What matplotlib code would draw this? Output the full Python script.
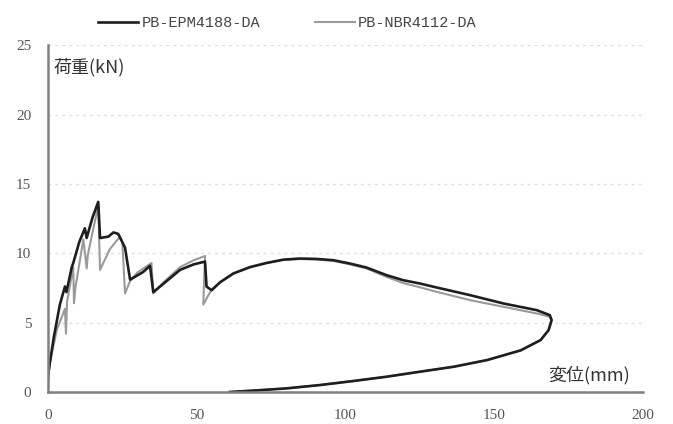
import matplotlib.pyplot as plt

# load-displacement curves
epm_x = [0, 0.1, 2, 4, 5.7, 6.2, 8.0, 8.5, 10.5, 12.4, 13.0, 15, 16.9, 17.5, 20.3, 22,
         23.6, 25.9, 27.6, 30, 32, 34.3, 35.4, 38.8, 44.4, 49, 52.8, 53.3, 55, 57.8, 62.3,
         67.9, 73.5, 79.1, 84.7, 90.3, 95.9, 101.5, 107.1, 113.8, 119.4, 125, 130.7,
         141.9, 153.1, 164.3, 168.7, 169.3, 168.3, 165.6, 158.9, 147.6, 136.4, 125,
         113.8, 102.6, 91.4, 80.2, 69, 61.2]
epm_y = [1.0, 1.35, 4.0, 6.3, 7.6, 7.2, 9.0, 9.3, 10.8, 11.8, 11.1, 12.6, 13.7, 11.1, 11.2, 11.5,
         11.4, 10.4, 8.1, 8.4, 8.65, 9.1, 7.2, 7.8, 8.8, 9.2, 9.4, 7.6, 7.34, 7.9, 8.54,
         9.0, 9.3, 9.54, 9.62, 9.59, 9.5, 9.26, 8.97, 8.42, 8.06, 7.82, 7.53,
         6.98, 6.38, 5.9, 5.54, 5.18, 4.46, 3.74, 3.0, 2.3, 1.82, 1.46,
         1.1, 0.79, 0.5, 0.26, 0.1, 0.0]

nbr_x = [0, 0.7, 3, 5.7, 6.05, 6.4, 8.5, 8.74, 9.2, 11.9, 13.0, 13.4, 16.9, 17.5, 20.8, 24.2,
         25.0, 25.9, 27.6, 30, 34.8, 35.4, 38.8, 44.4, 49, 52.8, 52.2, 54.5, 57.8, 62.3,
         67.9, 73.5, 79.1, 84.7, 90.3, 95.9, 101.5, 107.1, 113.8, 119.4, 125, 130.7,
         141.9, 153.1, 164.3, 168.7, 169.3, 168.3, 165.6, 158.9, 147.6, 136.4, 125,
         113.8, 102.6, 91.4, 80.2, 69, 61.2]
nbr_y = [0.8, 2.2, 4.5, 6.0, 4.2, 6.5, 9.0, 6.4, 7.5, 11.0, 8.9, 9.9, 13.45, 8.8, 10.3, 11.2,
         10.8, 7.1, 8.0, 8.6, 9.3, 7.1, 7.9, 9.0, 9.5, 9.8, 6.3, 7.2, 7.9, 8.54,
         9.0, 9.3, 9.52, 9.58, 9.55, 9.45, 9.2, 8.9, 8.3, 7.85, 7.55, 7.22,
         6.62, 6.14, 5.66, 5.42, 5.18, 4.46, 3.74, 3.0, 2.3, 1.82, 1.46,
         1.1, 0.79, 0.5, 0.26, 0.1, 0.0]

fig = plt.figure(figsize=(6.73, 4.24), dpi=100)
ax = fig.add_axes([0.0713, 0.0755, 0.884, 0.818])

ax.plot(nbr_x, nbr_y, color='#9a9a9a', lw=1.5, label='PB-NBR4112-DA')
ax.plot(epm_x, epm_y, color='#1e1e1e', lw=1.9, label='PB-EPM4188-DA')

ax.set_xlim(0, 200)
ax.set_ylim(0, 25)
ax.set_xticks([0, 50, 100, 150, 200])
ax.set_yticks([0, 5, 10, 15, 20, 25])
ax.tick_params(length=0, pad=12, labelcolor='#555555', labelsize=11)
for lab in ax.get_xticklabels() + ax.get_yticklabels():
    lab.set_family('Liberation Serif')
ax.grid(axis='y', color='#dddddd', lw=1, ls=(0, (2, 3)))
ax.set_axisbelow(True)
for s in ['top', 'right']:
    ax.spines[s].set_visible(False)
for s in ['left', 'bottom']:
    ax.spines[s].set_color('#808080')
    ax.spines[s].set_linewidth(1.8)

ax.text(2, 23.4, '荷重(kN)', family='Noto Sans CJK JP', fontsize=13, color='#333333', va='center')
ax.text(168, 1.2, '変位(mm)', family='Noto Sans CJK JP', fontsize=13, color='#333333', va='center')

h, l = ax.get_legend_handles_labels()
fig.legend(h[::-1], l[::-1], loc='center left', bbox_to_anchor=(0.135, 0.946), ncol=2,
           frameon=False, handlelength=2.6, columnspacing=3.6, handletextpad=0.2,
           borderpad=0, prop={'family': 'Liberation Mono', 'size': 11}, labelcolor='#444444')

fig.savefig('out.png', dpi=100)
